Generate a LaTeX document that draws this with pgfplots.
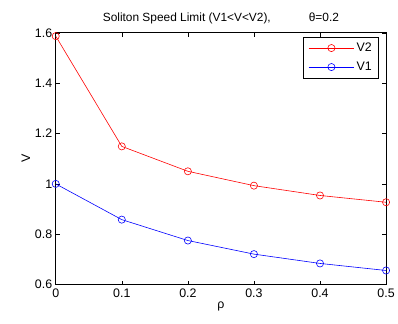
\documentclass[border=0pt]{standalone}
\usepackage{fontspec}
\setmainfont{Liberation Sans}
\usepackage{pgfplots}
\pgfplotsset{compat=1.18}
\begin{document}
\begin{tikzpicture}
\begin{axis}[
  scale only axis,
  width=332bp, height=253bp,
  xmin=0, xmax=0.5, ymin=0.6, ymax=1.6,
  xtick={0,0.1,0.2,0.3,0.4,0.5},
  ytick={0.6,0.8,1,1.2,1.4,1.6},
  yticklabels={0.6,0.8,1,1.2,1.4,1.6},
  xticklabels={0,0.1,0.2,0.3,0.4,0.5},
  tick align=inside,
  tick pos=both,
  major tick length=4bp,
  axis line style={line width=0.8pt},
  tick style={line width=0.5pt,black},
  ticklabel style={font=\fontsize{12.5}{14}\selectfont},
  xticklabel style={yshift=-0.5bp},
  title={Soliton Speed Limit (V1<V<V2),\hspace{3.2em}θ=0.2},
  title style={font=\fontsize{12}{14}\selectfont, yshift=-1bp},
  xlabel={ρ},
  ylabel={V},
  label style={font=\fontsize{12.5}{14}\selectfont},
  xlabel style={yshift=2bp},
  ylabel style={yshift=-2bp},
  legend style={at={(rel axis cs:1,1)}, anchor=north east, xshift=-7bp, yshift=-3.8bp,
    draw=black, line width=0.8pt, font=\fontsize{12.5}{14}\selectfont,
    inner xsep=5bp, inner ysep=4bp, row sep=5bp,
    nodes={inner xsep=2bp}},
  legend cell align=left,
  legend image code/.code={
    \draw[#1, line width=0.6pt] (0bp,0bp) -- (46bp,0bp);
    \draw[#1, line width=0.6pt, mark=o, mark size=3.6bp, mark options={solid}] plot coordinates {(23bp,0bp)};
  },
]
\addplot[red, line width=0.6pt, mark=o, mark size=3.6bp] coordinates {
(0,1.587) (0.1,1.149) (0.2,1.050) (0.3,0.993) (0.4,0.954) (0.5,0.927)
};
\addlegendentry{V2}
\addplot[blue, line width=0.6pt, mark=o, mark size=3.6bp] coordinates {
(0,1.000) (0.1,0.858) (0.2,0.775) (0.3,0.721) (0.4,0.684) (0.5,0.656)
};
\addlegendentry{V1}
\path (rel axis cs:0,0) ++(-56bp,-39bp) coordinate (bl);
\path (rel axis cs:1,1) ++(10bp,33bp) coordinate (tr);
\end{axis}
\useasboundingbox (bl) rectangle (tr);
\end{tikzpicture}
\end{document}
